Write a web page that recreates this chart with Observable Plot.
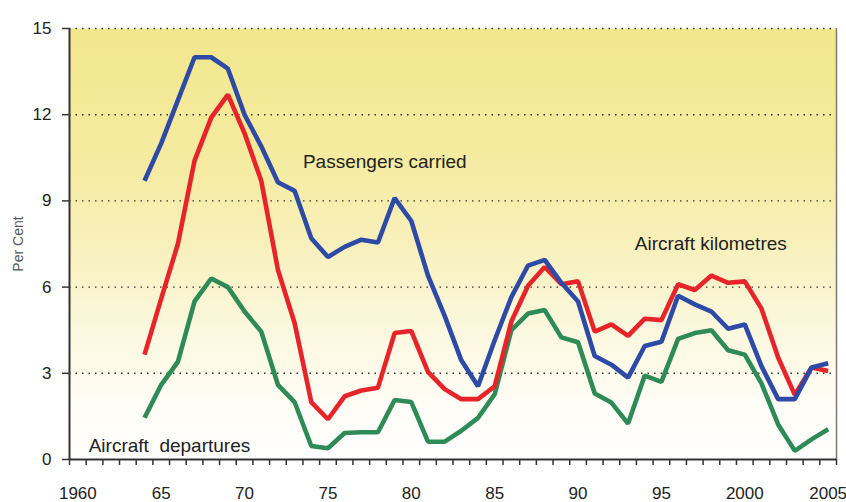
<!DOCTYPE html>
<html>
<head>
<meta charset="utf-8">
<script src="https://cdn.jsdelivr.net/npm/d3@7"></script>
<script src="https://cdn.jsdelivr.net/npm/@observablehq/plot@0.6"></script>
<style>
  html, body { margin: 0; padding: 0; background: #ffffff; }
</style>
</head>
<body>
<div id="chart"></div>
<script>
const years = d3.range(1964, 2006);
const passengersCarried = [9.7, 11.0, 12.5, 14.0, 14.0, 13.6, 12.0, 10.9, 9.65, 9.35,
  7.7, 7.05, 7.4, 7.65, 7.55, 9.1, 8.3, 6.4, 5.0, 3.45,
  2.55, 4.15, 5.65, 6.75, 6.95, 6.15, 5.5, 3.6, 3.3, 2.85,
  3.95, 4.1, 5.7, 5.4, 5.15, 4.55, 4.7, 3.25, 2.1, 2.1,
  3.2, 3.35];
const aircraftKilometres = [3.65, 5.6, 7.5, 10.4, 11.9, 12.7, 11.35, 9.7, 6.6, 4.75,
  2.0, 1.4, 2.2, 2.4, 2.5, 4.4, 4.47, 3.05, 2.45, 2.1,
  2.1, 2.55, 4.8, 6.05, 6.7, 6.1, 6.2, 4.45, 4.7, 4.3,
  4.9, 4.85, 6.1, 5.9, 6.4, 6.15, 6.2, 5.25, 3.55, 2.25,
  3.2, 3.08];
const aircraftDepartures = [1.45, 2.6, 3.4, 5.5, 6.3, 6.0, 5.15, 4.45, 2.6, 2.0,
  0.47, 0.39, 0.92, 0.95, 0.95, 2.07, 2.0, 0.62, 0.62, 1.0,
  1.45, 2.27, 4.5, 5.08, 5.2, 4.25, 4.08, 2.3, 1.98, 1.25,
  2.92, 2.7, 4.2, 4.4, 4.5, 3.8, 3.65, 2.65, 1.22, 0.3,
  0.7, 1.05];
const yTicks = [0, 3, 6, 9, 12, 15];
const xTickYears = [1960, 1965, 1970, 1975, 1980, 1985, 1990, 1995, 2000, 2005];
const xTickLabels = ["1960", "65", "70", "75", "80", "85", "90", "95", "2000", "2005"];
const seriesNames = ["Aircraft departures", "Aircraft kilometres", "Passengers carried"];

const rows = [];
years.forEach((yr, i) => {
  rows.push({series: seriesNames[0], year: yr, value: aircraftDepartures[i]});
  rows.push({series: seriesNames[1], year: yr, value: aircraftKilometres[i]});
  rows.push({series: seriesNames[2], year: yr, value: passengersCarried[i]});
});

const colors = {"Aircraft departures": "#2e8b57", "Aircraft kilometres": "#e8242b", "Passengers carried": "#2d4aa6"};

const annotations = [
  {text: seriesNames[2], x: 1974.0, y: 10.37},
  {text: seriesNames[1], x: 1993.9, y: 7.52},
  {text: "Aircraft  departures", x: 1961.15, y: 0.49}
];

const font = "'Liberation Sans', Arial, Helvetica, sans-serif";

const chart = Plot.plot({
  width: 846,
  height: 502,
  marginLeft: 69,
  marginRight: 10,
  marginTop: 28,
  marginBottom: 43,
  style: {fontFamily: font, fontSize: "17px", color: "#222", background: "#ffffff"},
  x: {domain: [1960, 2006], axis: null},
  y: {domain: [0, 15], axis: null},
  marks: [
    Plot.frame({fill: "url(#bgGrad)", stroke: null}),
    Plot.ruleY(yTicks.filter(d => d > 0), {stroke: "#333", strokeWidth: 1.4, strokeDasharray: "1.5,5"}),
    Plot.ruleX([2006], {stroke: "#7a7a7a", strokeWidth: 1.5}),
    ...seriesNames.map(s => Plot.line(rows.filter(r => r.series === s), {
      x: d => d.year + 0.5, y: "value",
      stroke: colors[s], strokeWidth: 4.6,
      strokeLinejoin: "miter", strokeLinecap: "butt", curve: "linear"
    })),
    Plot.axisY(yTicks, {tickSize: 7, tickPadding: 11, fontSize: 17, stroke: "#333", strokeWidth: 1.5, fill: "#222", label: null}),
    Plot.ruleX([1960], {stroke: "#333", strokeWidth: 2}),
    Plot.ruleY([0], {stroke: "#333", strokeWidth: 2}),
    Plot.axisX(d3.range(1960, 2007), {tickSize: 6, tickFormat: () => "", stroke: "#333", strokeWidth: 1.5, label: null}),
    Plot.axisX(xTickYears.map(y => y + 0.5), {
      tickSize: 0, tickPadding: 27, fontSize: 17, fill: "#222", label: null,
      tickFormat: d => xTickLabels[xTickYears.indexOf(Math.round(d - 0.5))]
    }),
    Plot.text(annotations, {x: "x", y: "y", text: "text", textAnchor: "start", lineAnchor: "middle",
      fontSize: 19, fill: "#222", fontFamily: font}),
    Plot.text(["Per Cent"], {frameAnchor: "left", textAnchor: "middle", lineAnchor: "middle", dx: -51, rotate: -90, fontSize: 14, fill: "#555", text: d => d})
  ]
});

const svg = d3.select(chart);
const defs = svg.insert("defs", ":first-child");
const grad = defs.append("linearGradient").attr("id", "bgGrad")
  .attr("x1", 0).attr("y1", 0).attr("x2", 0).attr("y2", 1);
[[0, "#f2e78c"], [0.3, "#f5eba0"], [0.5, "#f8f0bb"], [0.7, "#fcf8df"], [0.88, "#fffdf6"], [1, "#ffffff"]]
  .forEach(([o, c]) => grad.append("stop").attr("offset", o).attr("stop-color", c));
svg.selectAll("text").style("white-space", "pre");

document.getElementById("chart").appendChild(chart);
</script>
</body>
</html>
